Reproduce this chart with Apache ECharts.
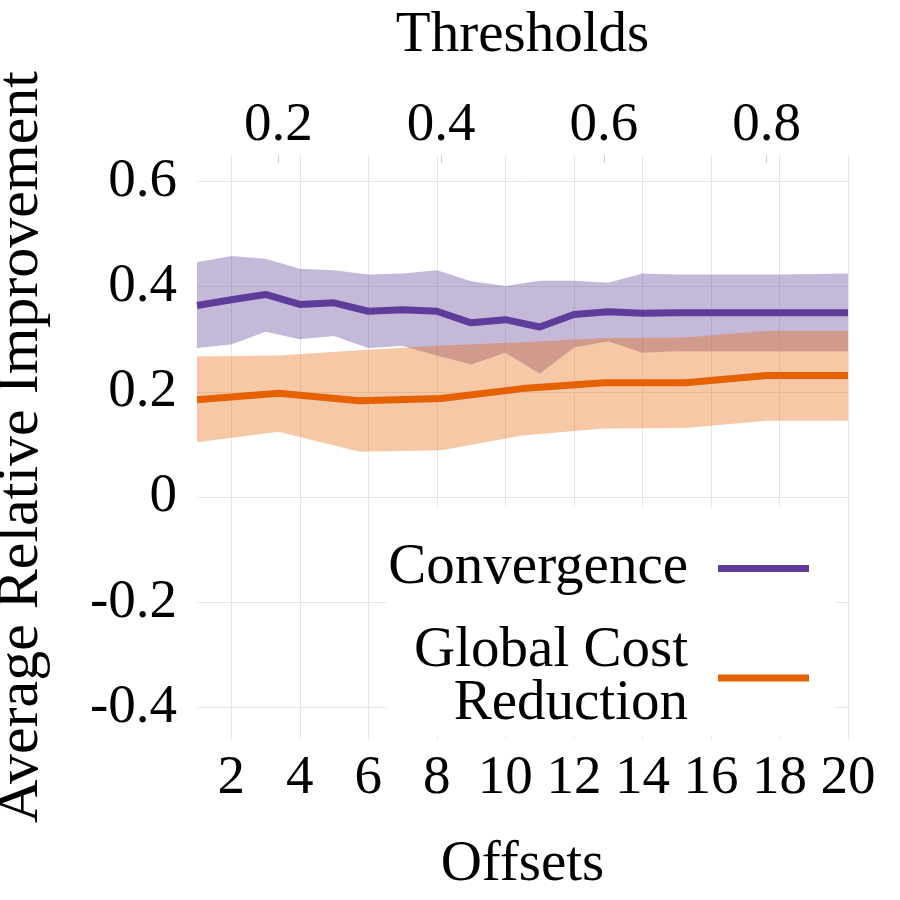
<!DOCTYPE html>
<html>
<head>
<meta charset="utf-8">
<script src="https://cdn.jsdelivr.net/npm/echarts@6/dist/echarts.min.js"></script>
<style>
  html, body { margin: 0; padding: 0; background: #fff; }
  #chart { width: 900px; height: 900px; }
</style>
</head>
<body>
<div id="chart"></div>
<script>
// offsets axis (bottom) - Convergence
var offsets = [1, 2, 3, 4, 5, 6, 7, 8, 9, 10, 11, 12, 13, 14, 15, 16, 17, 18, 19, 20];
var convMean  = [0.364, 0.375, 0.385, 0.366, 0.369, 0.353, 0.356, 0.353, 0.331, 0.337, 0.323, 0.347, 0.352, 0.349, 0.350, 0.350, 0.350, 0.350, 0.350, 0.350];
var convUpper = [0.446, 0.458, 0.453, 0.434, 0.431, 0.423, 0.425, 0.431, 0.410, 0.401, 0.411, 0.411, 0.407, 0.425, 0.423, 0.423, 0.423, 0.423, 0.424, 0.425];
var convLower = [0.283, 0.290, 0.314, 0.300, 0.306, 0.283, 0.287, 0.269, 0.252, 0.274, 0.234, 0.284, 0.296, 0.274, 0.277, 0.277, 0.277, 0.277, 0.277, 0.277];

// thresholds axis (top) - Global Cost Reduction
var thresholds = [0.1, 0.2, 0.3, 0.4, 0.5, 0.6, 0.7, 0.8, 0.9];
var costMean  = [0.185, 0.197, 0.183, 0.187, 0.206, 0.217, 0.217, 0.231, 0.231];
var costUpper = [0.267, 0.269, 0.279, 0.288, 0.294, 0.302, 0.303, 0.316, 0.316];
var costLower = [0.104, 0.124, 0.086, 0.089, 0.117, 0.130, 0.131, 0.145, 0.145];

// tick labels
var offsetTicks = [2, 4, 6, 8, 10, 12, 14, 16, 18, 20];
var thresholdTicks = [0.2, 0.4, 0.6, 0.8];
var yTicks = [-0.4, -0.2, 0, 0.2, 0.4, 0.6];

var PURPLE = '#5e3c99';
var ORANGE = '#e66101';
var FONT = 'Liberation Serif';
var GRID_COLOR = '#e6e6e6';

function pairs(xs, ys) {
    return xs.map(function (x, i) { return [x, ys[i]]; });
}
function triples(xs, lo, hi) {
    return xs.map(function (x, i) { return [x, lo[i], hi[i]]; });
}

// band between lower and upper, drawn once as a polygon through the axes
function bandRenderer(xs, lo, hi, color, opacity) {
    return function (params, api) {
        if (params.dataIndex !== 0) return null;
        var pts = [];
        for (var i = 0; i < xs.length; i++) pts.push(api.coord([xs[i], hi[i]]));
        for (var j = xs.length - 1; j >= 0; j--) pts.push(api.coord([xs[j], lo[j]]));
        return {
            type: 'polygon',
            shape: { points: pts },
            style: { fill: color, opacity: opacity },
            silent: true
        };
    };
}

var myChart = echarts.init(document.getElementById('chart'));

var option = {
    animation: false,
    textStyle: { fontFamily: FONT, color: '#000' },
    grid: { left: 197, right: 52, top: 155, bottom: 161, outerBoundsMode: 'none', containLabel: false },
    xAxis: [
        {
            type: 'value',
            min: 1,
            max: 20,
            position: 'bottom',
            name: 'Offsets',
            nameLocation: 'middle',
            nameGap: 98,
            nameTextStyle: { fontFamily: FONT, fontSize: 57, color: '#000' },
            axisLine: { show: false },
            axisTick: { show: false, customValues: offsetTicks },
            axisLabel: {
                customValues: offsetTicks,
                fontFamily: FONT, fontSize: 55, color: '#000', margin: 12
            },
            splitLine: { show: true, lineStyle: { color: GRID_COLOR, width: 1 } }
        },
        {
            type: 'value',
            min: 0.1,
            max: 0.9,
            position: 'top',
            name: 'Thresholds',
            nameLocation: 'middle',
            nameGap: 90,
            nameTextStyle: { fontFamily: FONT, fontSize: 57, color: '#000' },
            axisLine: { show: false },
            axisTick: {
                show: true, inside: true, length: 8,
                customValues: thresholdTicks,
                lineStyle: { color: '#d0d0d0' }
            },
            axisLabel: {
                customValues: thresholdTicks,
                fontFamily: FONT, fontSize: 55, color: '#000', margin: 2,
                formatter: function (v) { return v.toFixed(1); }
            },
            splitLine: { show: false }
        }
    ],
    yAxis: {
        type: 'value',
        min: -0.46,
        max: 0.65,
        name: 'Average Relative Improvement',
        nameLocation: 'middle',
        nameGap: 146,
        nameTextStyle: { fontFamily: FONT, fontSize: 60, color: '#000' },
        axisLine: { show: false },
        axisTick: { show: false, customValues: yTicks },
        axisLabel: {
            customValues: yTicks,
            fontFamily: FONT, fontSize: 55, color: '#000', margin: 20,
            formatter: function (v) { return Math.abs(v) < 1e-9 ? '0' : v.toFixed(1); }
        },
        splitLine: { show: true, lineStyle: { color: GRID_COLOR, width: 1 } }
    },
    legend: {
        data: ['Convergence', 'Global Cost Reduction'],
        orient: 'vertical',
        align: 'right',
        right: 64,
        top: 507,
        padding: [33, 27, 3, 2],
        backgroundColor: '#fff',
        icon: 'rect',
        itemWidth: 91,
        itemHeight: 7,
        itemGap: 26,
        formatter: function (name) {
            return name === 'Global Cost Reduction' ? 'Global Cost\nReduction' : name;
        },
        textStyle: {
            fontFamily: FONT, fontSize: 57, color: '#000',
            lineHeight: 53, padding: [0, 25, 0, 0]
        }
    },
    series: [
        {
            name: 'conv-band', type: 'custom', xAxisIndex: 0,
            data: triples(offsets, convLower, convUpper),
            encode: { x: 0, y: [1, 2] },
            renderItem: bandRenderer(offsets, convLower, convUpper, PURPLE, 0.36),
            silent: true, z: 1
        },
        {
            name: 'cost-band', type: 'custom', xAxisIndex: 1,
            data: triples(thresholds, costLower, costUpper),
            encode: { x: 0, y: [1, 2] },
            renderItem: bandRenderer(thresholds, costLower, costUpper, ORANGE, 0.35),
            silent: true, z: 1
        },
        {
            name: 'Convergence', type: 'line', xAxisIndex: 0,
            data: pairs(offsets, convMean), symbol: 'none',
            color: PURPLE, z: 3,
            lineStyle: { color: PURPLE, width: 7 }
        },
        {
            name: 'Global Cost Reduction', type: 'line', xAxisIndex: 1,
            data: pairs(thresholds, costMean), symbol: 'none',
            color: ORANGE, z: 3,
            lineStyle: { color: ORANGE, width: 7 }
        }
    ]
};

myChart.setOption(option);
</script>
</body>
</html>
